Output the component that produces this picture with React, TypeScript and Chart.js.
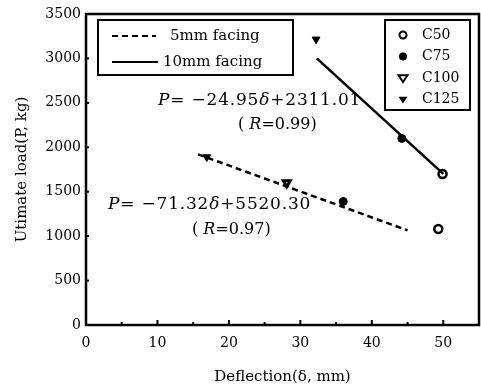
import React, { useEffect, useRef } from "react";
import { Chart, registerables } from "chart.js";

Chart.register(...registerables);

// ---- data ----
const xTicks = [0, 10, 20, 30, 40, 50];
const yTicks = [0, 500, 1000, 1500, 2000, 2500, 3000, 3500];

const fit5mmX = [15.7, 45.0];
const fit5mmY = [1920, 1065];
const fit10mmX = [32.3, 50.0];
const fit10mmY = [3000, 1700];

const c50X = [49.3, 49.9];
const c50Y = [1080, 1700];
const c75X = [36.0, 44.2];
const c75Y = [1390, 2100];
const c100X = [28.1];
const c100Y = [1600];
const c125X = [16.9, 32.2];
const c125Y = [1890, 3215];

const seriesNames = ["C50", "C75", "C100", "C125"];
const lineNames = ["5mm facing", "10mm facing"];
const eq1 = ["P", "= \u221224.95", "\u03b4", "+2311.01"];
const eq1R = ["( ", "R", "=0.99)"];
const eq2 = ["P", "= \u221271.32", "\u03b4", "+5520.30"];
const eq2R = ["( ", "R", "=0.97)"];

const pts = (xs: number[], ys: number[]) => xs.map((x, i) => ({ x, y: ys[i] }));

const FONT = "'DejaVu Serif', 'Liberation Serif', serif";

function drawMarker(ctx: CanvasRenderingContext2D, kind: string, x: number, y: number) {
  ctx.save();
  ctx.strokeStyle = "#000";
  ctx.fillStyle = "#000";
  ctx.lineWidth = 2;
  if (kind === "C50") {
    ctx.beginPath();
    ctx.arc(x, y, 3.5, 0, Math.PI * 2);
    ctx.stroke();
  } else if (kind === "C75") {
    ctx.beginPath();
    ctx.arc(x, y, 4, 0, Math.PI * 2);
    ctx.fill();
  } else {
    const r = 4.5;
    ctx.beginPath();
    ctx.moveTo(x - r, y - r * 0.6);
    ctx.lineTo(x + r, y - r * 0.6);
    ctx.lineTo(x, y + r * 0.9);
    ctx.closePath();
    if (kind === "C125") ctx.fill();
    else ctx.stroke();
  }
  ctx.restore();
}

function drawRuns(
  ctx: CanvasRenderingContext2D,
  runs: string[],
  x: number,
  y: number,
  size: number,
  spacing: number
) {
  let cx = x;
  (ctx as any).letterSpacing = `${spacing}px`;
  runs.forEach((r) => {
    const italic = r === "P" || r === "R" || r === "\u03b4";
    ctx.font = `${italic ? "italic " : ""}${size}px ${FONT}`;
    ctx.fillText(r, cx, y);
    cx += ctx.measureText(r).width;
  });
  (ctx as any).letterSpacing = "0px";
}

const decorPlugin = {
  id: "decor",
  afterDatasetsDraw(chart: any) {
    const ctx: CanvasRenderingContext2D = chart.ctx;
    const { left, right, top, bottom } = chart.chartArea;
    const xs = chart.scales.x;
    const ys = chart.scales.y;
    ctx.save();
    ctx.strokeStyle = "#000";
    ctx.fillStyle = "#000";
    // frame
    ctx.lineWidth = 2.5;
    ctx.strokeRect(left, top, right - left, bottom - top);
    // inward ticks
    ctx.lineWidth = 2;
    for (let v = 5; v <= 50; v += 5) {
      const px = xs.getPixelForValue(v);
      const len = v % 10 === 0 ? 5 : 3;
      ctx.beginPath();
      ctx.moveTo(px, bottom);
      ctx.lineTo(px, bottom - len);
      ctx.stroke();
    }
    yTicks.forEach((v) => {
      if (v === 0) return;
      const py = ys.getPixelForValue(v);
      ctx.beginPath();
      ctx.moveTo(left, py);
      ctx.lineTo(left + 3, py);
      ctx.stroke();
    });

    // legend 1 (lines)
    ctx.lineWidth = 2;
    ctx.strokeRect(98, 20, 195, 55);
    ctx.lineWidth = 2.2;
    ctx.setLineDash([6, 4]);
    ctx.beginPath();
    ctx.moveTo(112, 36);
    ctx.lineTo(156, 36);
    ctx.stroke();
    ctx.setLineDash([]);
    ctx.beginPath();
    ctx.moveTo(112, 62);
    ctx.lineTo(158, 62);
    ctx.stroke();
    ctx.font = `15px ${FONT}`;
    ctx.textBaseline = "middle";
    ctx.textAlign = "left";
    ctx.fillText(lineNames[0], 170, 36);
    ctx.fillText(lineNames[1], 163, 62);

    // legend 2 (markers)
    ctx.lineWidth = 2;
    ctx.strokeRect(385, 20, 85, 90);
    ctx.font = `14px ${FONT}`;
    seriesNames.forEach((n, i) => {
      const y = 35 + i * 21.5;
      drawMarker(ctx, n, 403, y);
      ctx.fillText(n, 422, y);
    });

    // equations
    drawRuns(ctx, eq1, 158, 101, 17, 0.8);
    drawRuns(ctx, eq1R, 238, 125, 16, 0);
    drawRuns(ctx, eq2, 108, 205, 17, 0.8);
    drawRuns(ctx, eq2R, 192, 230, 16, 0);
    ctx.restore();
  },
};

export default function App() {
  const ref = useRef<HTMLCanvasElement | null>(null);
  useEffect(() => {
    document.body.style.margin = "0";
    const canvas = ref.current!;
    const chart = new Chart(canvas, {
      type: "scatter",
      data: {
        datasets: [
          {
            label: lineNames[0],
            data: pts(fit5mmX, fit5mmY),
            showLine: true,
            borderColor: "#000",
            borderWidth: 2.5,
            borderDash: [6, 4],
            pointRadius: 0,
          },
          {
            label: lineNames[1],
            data: pts(fit10mmX, fit10mmY),
            showLine: true,
            borderColor: "#000",
            borderWidth: 2.5,
            pointRadius: 0,
          },
          {
            label: seriesNames[0],
            data: pts(c50X, c50Y),
            pointStyle: "circle",
            pointRadius: 4,
            borderWidth: 2.5,
            borderColor: "#000",
            backgroundColor: "#fff",
          },
          {
            label: seriesNames[1],
            data: pts(c75X, c75Y),
            pointStyle: "circle",
            pointRadius: 4,
            borderWidth: 1,
            borderColor: "#000",
            backgroundColor: "#000",
          },
          {
            label: seriesNames[2],
            data: pts(c100X, c100Y),
            pointStyle: "triangle",
            pointRotation: 180,
            pointRadius: 4,
            borderWidth: 3,
            borderColor: "#000",
            backgroundColor: "#fff",
          },
          {
            label: seriesNames[3],
            data: pts(c125X, c125Y),
            pointStyle: "triangle",
            pointRotation: 180,
            pointRadius: 4.5,
            borderWidth: 1,
            borderColor: "#000",
            backgroundColor: "#000",
          },
        ],
      },
      options: {
        responsive: false,
        animation: false,
        devicePixelRatio: 1,
        layout: { autoPadding: false, padding: { top: 14, right: 2, left: 0, bottom: 0 } },
        plugins: { legend: { display: false }, tooltip: { enabled: false } },
        scales: {
          x: {
            type: "linear",
            min: 0,
            max: 55,
            afterFit: (s: any) => {
              s.height = 61;
              s.paddingLeft = 0;
              s.paddingRight = 0;
            },
            afterBuildTicks: (s: any) => {
              s.ticks = xTicks.map((v) => ({ value: v }));
            },
            grid: { display: false, drawTicks: false },
            border: { display: false },
            ticks: {
              color: "#000",
              font: { family: FONT, size: 14 },
              padding: 10,
              maxRotation: 0,
              callback: (v: any) => String(v),
            },
            title: {
              display: true,
              text: "Deflection(\u03b4, mm)",
              color: "#000",
              font: { family: FONT, size: 15 },
              padding: { top: 3, bottom: 0 },
            },
          },
          y: {
            type: "linear",
            min: 0,
            max: 3500,
            afterFit: (s: any) => {
              s.width = 86;
              s.paddingTop = 0;
              s.paddingBottom = 0;
            },
            afterBuildTicks: (s: any) => {
              s.ticks = yTicks.map((v) => ({ value: v }));
            },
            grid: { display: false, drawTicks: false },
            border: { display: false },
            ticks: {
              color: "#000",
              font: { family: FONT, size: 14 },
              padding: 5,
              callback: (v: any) => String(v),
            },
            title: {
              display: true,
              text: "Utimate load(P, kg)",
              color: "#000",
              font: { family: FONT, size: 15 },
              padding: { top: 13, bottom: 0 },
            },
          },
        },
      },
      plugins: [decorPlugin],
    } as any);
    return () => chart.destroy();
  }, []);
  return (
    <div style={{ position: "fixed", left: 0, top: 0, width: 481, height: 386, background: "#fff" }}>
      <canvas ref={ref} width={481} height={386} />
    </div>
  );
}
